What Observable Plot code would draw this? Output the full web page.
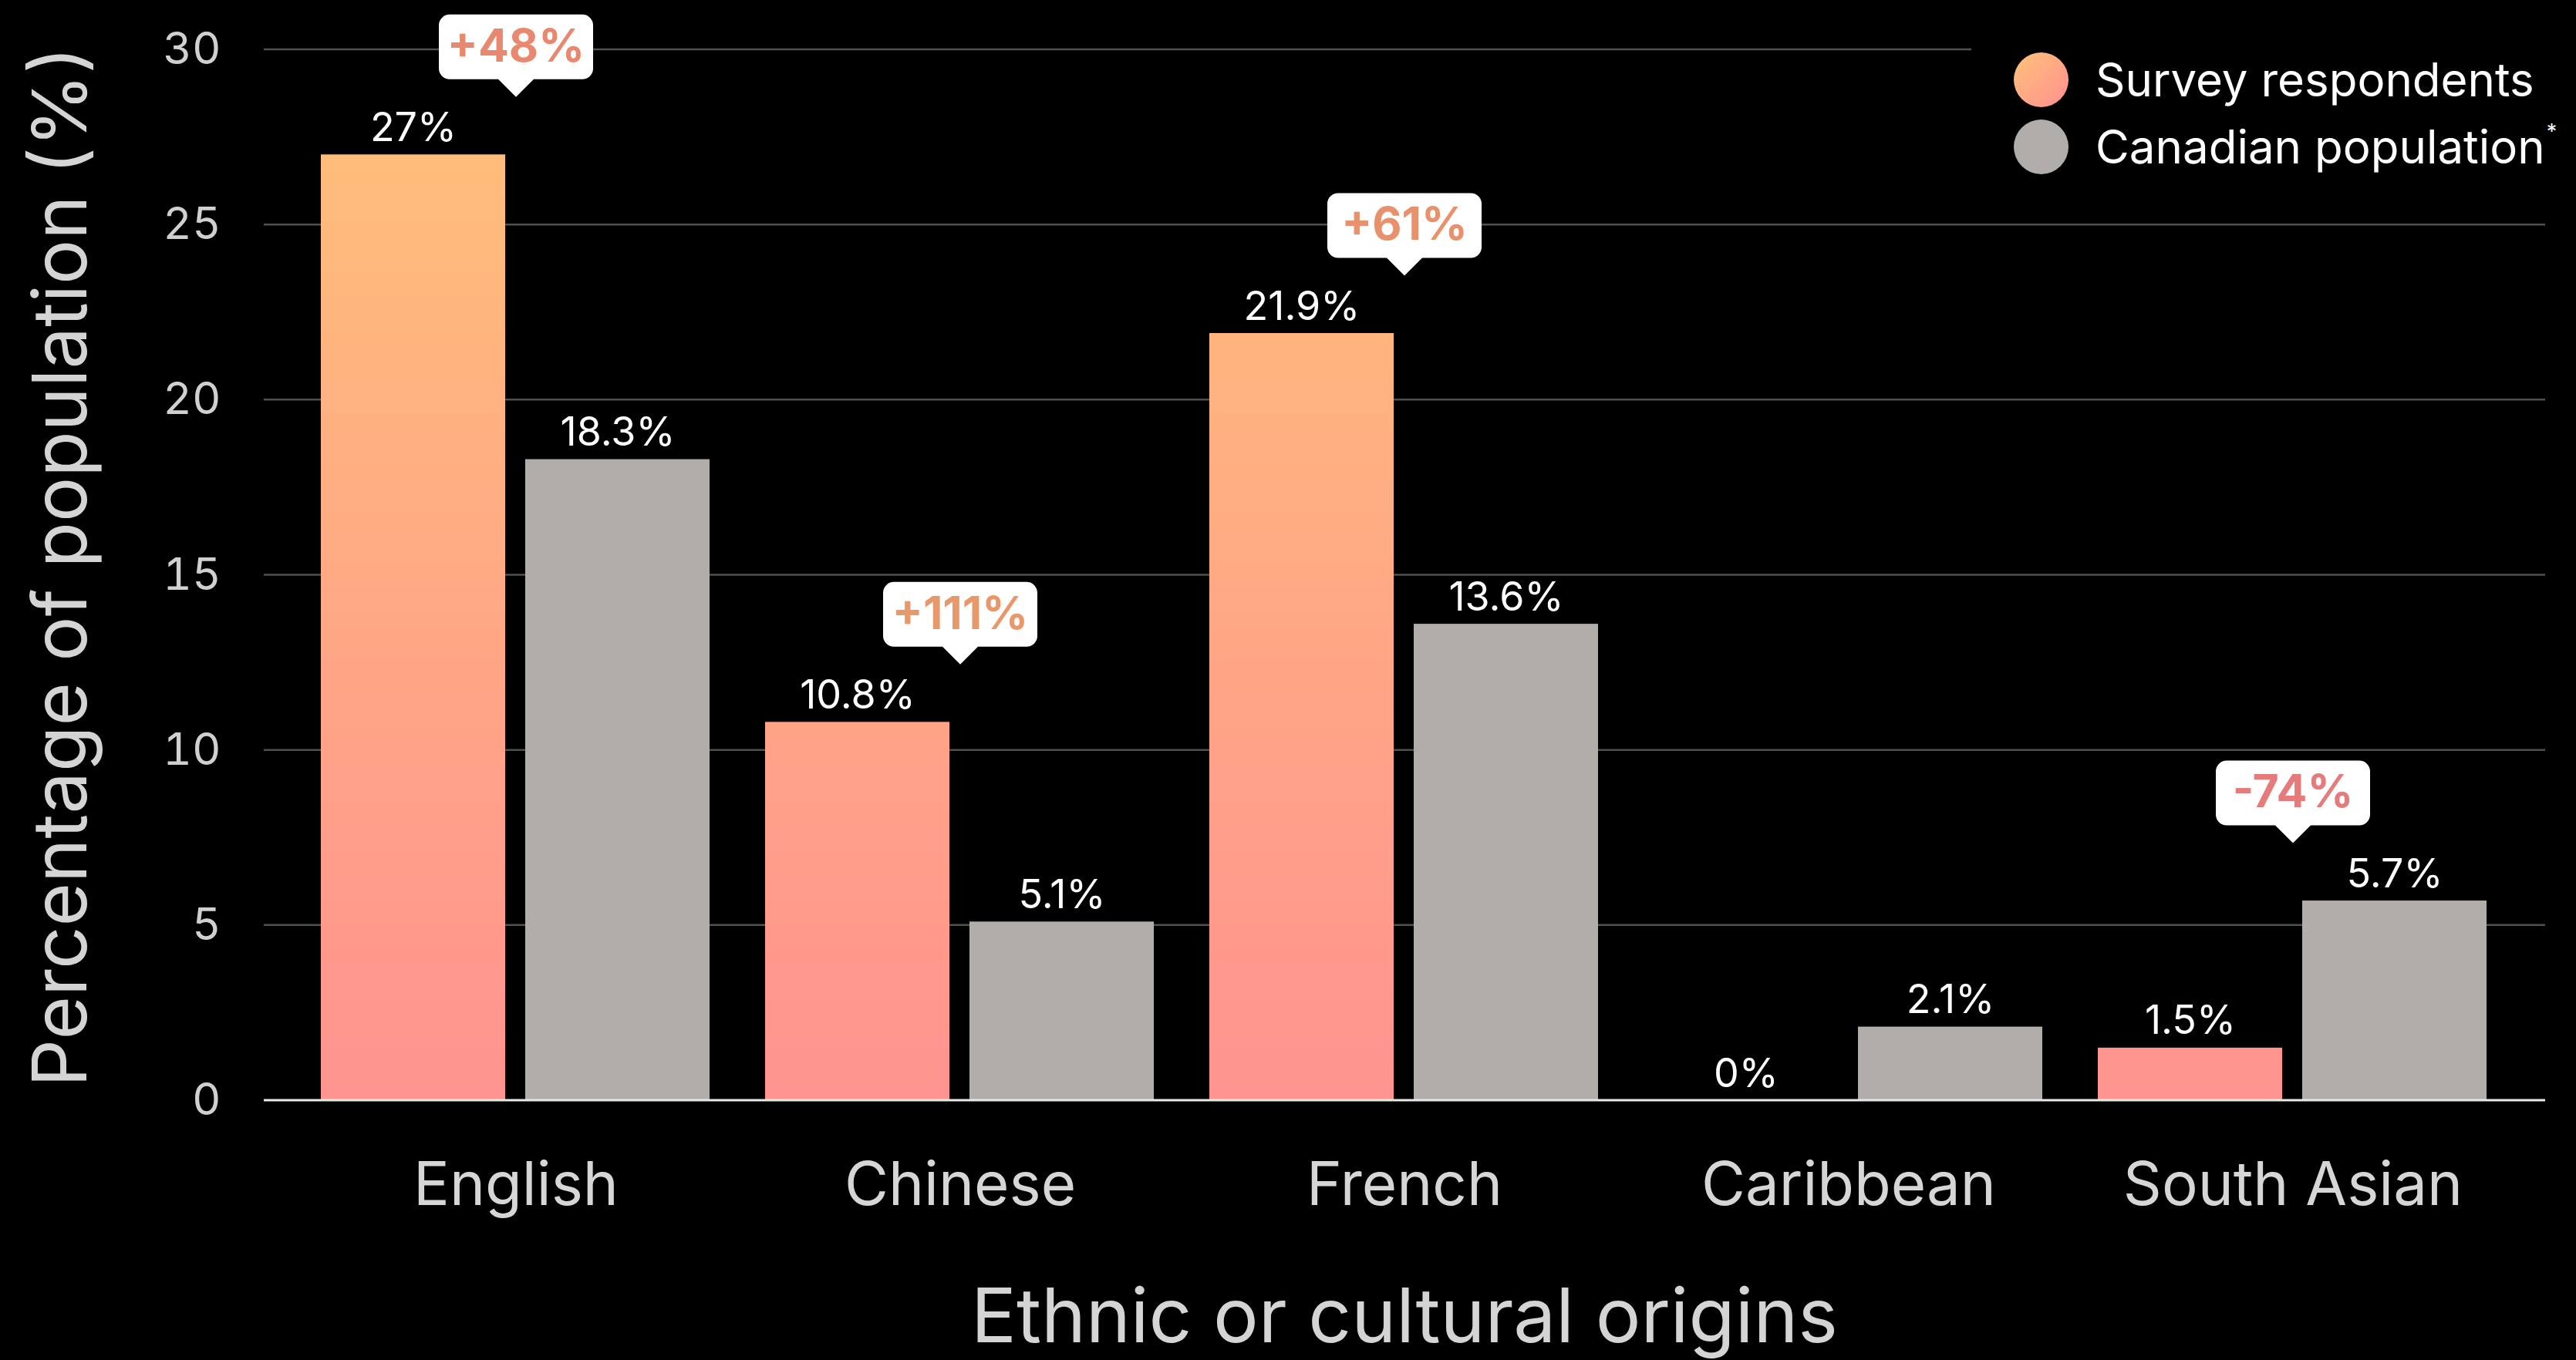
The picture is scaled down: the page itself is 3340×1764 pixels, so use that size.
<!DOCTYPE html>
<html><head><meta charset="utf-8">
<script src="https://cdn.jsdelivr.net/npm/d3@7"></script>
<script src="https://cdn.jsdelivr.net/npm/@observablehq/plot@0.6"></script>
<style>
html,body{margin:0;padding:0;background:#000;}
#wrap{position:relative;width:3340px;height:1764px;overflow:hidden;font-family:Inter, sans-serif;}
#legend{position:absolute;left:2556px;top:30px;width:784px;height:215px;background:#000;}
.item{position:absolute;left:55px;height:71px;display:flex;align-items:center;}
.sw{width:71px;height:71px;border-radius:50%;margin-right:35px;flex:none;}
.lab{color:#fff;font-size:60px;line-height:1;white-space:nowrap;}
.lab sup{font-size:0.45em;vertical-align:top;position:relative;top:-0.1em;margin-left:2px;}
#ytitle{position:absolute;left:76px;top:735px;transform:translate(-50%,-50%) rotate(-90deg);
  white-space:nowrap;line-height:1;font-size:97px;color:#d4d4d4;}
</style></head><body><div id="wrap"></div>
<script>
// ---- data ----
const origins = ["English", "Chinese", "French", "Caribbean", "South Asian"];
const seriesNames = ["Survey respondents", "Canadian population"];
const survey = [27, 10.8, 21.9, 0, 1.5];
const canadian = [18.3, 5.1, 13.6, 2.1, 5.7];
const diffLabels = ["+48%", "+111%", "+61%", null, "-74%"];
const yTicks = [0, 5, 10, 15, 20, 25, 30];
const yTitle = "Percentage of population (%)";
const xTitle = "Ethnic or cultural origins";

// ---- layout & styles ----
const W = 3340, H = 1764, ML = 342, MR = 40, MT = 64, MB = 337;
const calloutColor = {English: "#E8896F", Chinese: "#E8996B", French: "#E8916D", "South Asian": "#E57B7A"};
const grayFill = "#B1ADAA";

const rows = [];
origins.forEach((o, i) => {
  rows.push({origin: o, series: seriesNames[0], value: survey[i]});
  rows.push({origin: o, series: seriesNames[1], value: canadian[i]});
});
const surveyRows = rows.filter(d => d.series === seriesNames[0]);
const canadaRows = rows.filter(d => d.series === seriesNames[1]);
const callouts = origins.map((o, i) => ({origin: o, top: Math.max(survey[i], canadian[i]), label: diffLabels[i]}))
  .filter(d => d.label);

// callout bubble symbol: tip at origin
const calloutSymbol = {
  draw(ctx) {
    const w = 100, top = -107, bot = -23, r = 14, t = 23;
    ctx.moveTo(-w + r, top);
    ctx.lineTo(w - r, top);
    ctx.arcTo(w, top, w, top + r, r);
    ctx.lineTo(w, bot - r);
    ctx.arcTo(w, bot, w - r, bot, r);
    ctx.lineTo(t, bot);
    ctx.lineTo(0, 0);
    ctx.lineTo(-t, bot);
    ctx.lineTo(-w + r, bot);
    ctx.arcTo(-w, bot, -w, bot - r, r);
    ctx.lineTo(-w, top + r);
    ctx.arcTo(-w, top, -w + r, top, r);
    ctx.closePath();
  }
};

const defsMark = (index, scales) => {
  const yTop = scales && scales.y ? scales.y(30) : MT;
  const yBot = scales && scales.y ? scales.y(0) : H - MB;
  const defs = d3.create("svg:defs");
  const lg = defs.append("linearGradient").attr("id", "surveyGrad")
    .attr("gradientUnits", "userSpaceOnUse")
    .attr("x1", 0).attr("x2", 0).attr("y1", yTop).attr("y2", yBot);
  lg.append("stop").attr("offset", "0%").attr("stop-color", "#FFC178");
  lg.append("stop").attr("offset", "100%").attr("stop-color", "#FF9390");
  return defs.node();
};

// full-width horizontal rules drawn once across all facets
function fullRules(values, stroke, width) {
  return Plot.frame({
    facet: "super", stroke: "none",
    render: (index, scales) => {
      const g = d3.create("svg:g");
      values.forEach(t => {
        const yy = scales.y(t);
        g.append("line")
          .attr("x1", ML).attr("x2", W - MR)
          .attr("y1", yy).attr("y2", yy)
          .attr("stroke", stroke).attr("stroke-width", width);
      });
      return g.node();
    }
  });
}

const chart = Plot.plot({
  width: W,
  height: H,
  marginLeft: ML,
  marginRight: MR,
  marginTop: MT,
  marginBottom: MB,
  style: {background: "#000", color: "#fff", fontFamily: "Inter, sans-serif"},
  fx: {domain: origins, paddingInner: 0.123, paddingOuter: 0.125, label: null},
  x: {domain: seriesNames, paddingInner: 0.098, paddingOuter: 0, axis: null},
  y: {domain: [0, 30], axis: null},
  color: {type: "identity"},
  marks: [
    defsMark,
    fullRules(yTicks.filter(t => t > 0), "#505050", 2.5),
    Plot.barY(surveyRows, {fx: "origin", x: "series", y: "value", fill: "url(#surveyGrad)"}),
    Plot.barY(canadaRows, {fx: "origin", x: "series", y: "value", fill: grayFill}),
    fullRules([0], "#e8e8e8", 3),
    Plot.text(rows, {fx: "origin", x: "series", y: "value", text: d => `${d.value}%`,
      dy: -18, lineAnchor: "bottom", fontSize: 52, fill: "#fff"}),
    Plot.dot(callouts, {fx: "origin", y: "top", dy: -75, symbol: calloutSymbol, fill: "#fff", stroke: "none"}),
    Plot.text(callouts, {fx: "origin", y: "top", dy: -140, text: "label", lineAnchor: "middle",
      fontSize: 59, fontWeight: 700, fill: d => calloutColor[d.origin]}),
    Plot.axisY({ticks: yTicks, tickSize: 0, tickPadding: 130, fontSize: 58, color: "#d0d0d0", label: null, tickFormat: d => String(d)}),
    Plot.axisFx({anchor: "bottom", tickSize: 0, tickPadding: 80, fontSize: 78, color: "#d6d6d6", label: null}),
    Plot.text([xTitle], {facet: "super", frameAnchor: "bottom",
      dy: 282, lineAnchor: "middle", fontSize: 98, fill: "#d4d4d4"})
  ]
});

const wrap = document.getElementById("wrap");
wrap.appendChild(chart);

// y-axis title
const yt = document.createElement("div");
yt.id = "ytitle";
yt.textContent = yTitle;
wrap.appendChild(yt);

// legend
const legend = document.createElement("div");
legend.id = "legend";
const swatches = ["linear-gradient(135deg, #FFC27A 0%, #FF9090 100%)", grayFill];
const itemTops = [37.5, 124.5];
seriesNames.forEach((name, i) => {
  const item = document.createElement("div");
  item.className = "item";
  item.style.top = itemTops[i] + "px";
  const sw = document.createElement("div");
  sw.className = "sw";
  sw.style.background = swatches[i];
  const lab = document.createElement("div");
  lab.className = "lab";
  lab.textContent = name;
  if (i === 1) { const s = document.createElement("sup"); s.textContent = "*"; lab.appendChild(s); }
  item.appendChild(sw);
  item.appendChild(lab);
  legend.appendChild(item);
});
wrap.appendChild(legend);
</script></body></html>
